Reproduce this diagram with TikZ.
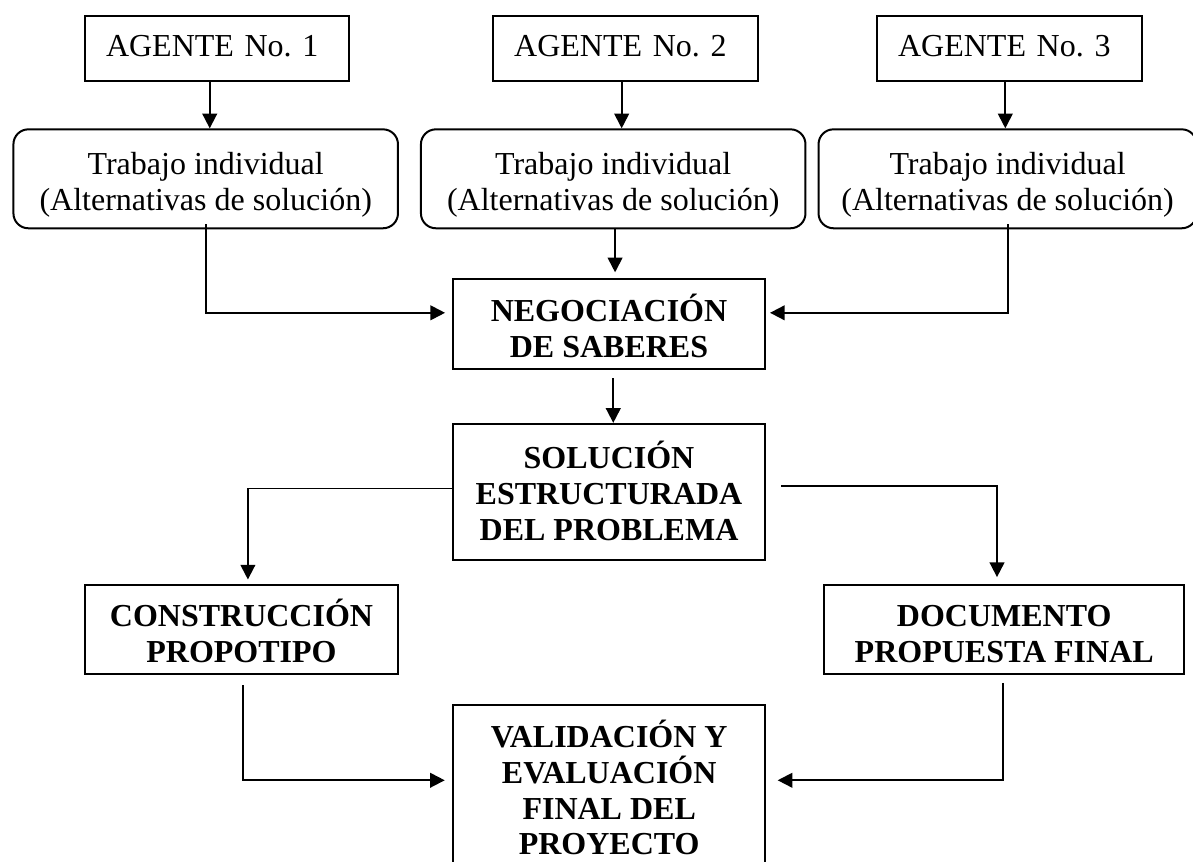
\documentclass[tikz,border=0pt]{standalone}
\usepackage{fontspec}
\setmainfont{Liberation Serif}
\usetikzlibrary{arrows.meta}
\frenchspacing

\begin{document}
\begin{tikzpicture}[x=0.375pt, y=-0.375pt,
    every node/.style = {draw, line width=0.75pt, align=center, inner sep=0pt,
      font=\fontsize{12pt}{13.4pt}\selectfont, text depth=0pt},
    agente/.style = {minimum width=99.2pt, minimum height=24.4pt, inner xsep=7.9pt,
      text width=83.4pt, align=left, text height=6.4pt},
    trabajo/.style = {rounded corners=5.6pt, minimum width=144.2pt, minimum height=37.1pt,
      text height=23.4pt},
    fase/.style = {font=\fontsize{12pt}{13.4pt}\selectfont\bfseries,
      minimum width=117.2pt, minimum height=33.6pt, text height=24.9pt},
    flecha/.style = {-{Triangle[length=5.5pt, width=5.5pt]}, line width=0.7pt}]

  \useasboundingbox (0,0) rectangle (1193,861);

  % agentes
  \node[agente] (ag1) at (217.2,48.2) {AGENTE No. 1};
  \node[agente] (ag2) at (625.4,48.2) {AGENTE No. 2};
  \node[agente] (ag3) at (1009.3,48.2) {AGENTE No. 3};

  % trabajo individual
  \node[trabajo] (tb1) at (205.7,178.8) {Trabajo individual\\(Alternativas de solución)};
  \node[trabajo] (tb2) at (613.2,178.8) {Trabajo individual\\(Alternativas de solución)};
  \node[trabajo, minimum width=141.8pt] (tb3) at (1007.6,178.8) {Trabajo individual\\(Alternativas de solución)};

  % fases
  \node[fase] (neg) at (609,324) {NEGOCIACIÓN\\DE SABERES};
  \node[fase, minimum height=51.1pt, text height=36pt] (sol) at (609,492)
    {SOLUCIÓN\\ESTRUCTURADA\\DEL PROBLEMA};
  \node[fase, minimum width=117.4pt] (cons) at (241.5,629.3) {CONSTRUCCIÓN\\PROPOTIPO};
  \node[fase, minimum width=135.1pt] (doc) at (1004.2,629.3) {DOCUMENTO\\PROPUESTA FINAL};
  \node[fase, minimum height=62.25pt, text height=50.2pt] (val) at (609.2,788)
    {VALIDACIÓN Y\\EVALUACIÓN\\FINAL DEL\\PROYECTO};

  % flechas
  \draw[flecha] ([xshift=-2.8pt]ag1.south) -- ([xshift=-2.8pt]ag1.south |- tb1.north);
  \draw[flecha] ([xshift=-1.4pt]ag2.south) -- ([xshift=-1.4pt]ag2.south |- tb2.north);
  \draw[flecha] ([xshift=-1.5pt]ag3.south) -- ([xshift=-1.5pt]ag3.south |- tb3.north);

  \draw[flecha] ([yshift=1.9pt]tb1.south) |- ([xshift=-2.5pt,yshift=4.2pt]neg.west);
  \draw[flecha, shorten >=2.2pt] ([xshift=0.7pt]tb2.south) -- ([xshift=0.7pt]tb2.south |- neg.north);
  \draw[flecha] ([yshift=1.9pt]tb3.south) |- ([xshift=1.4pt,yshift=4.2pt]neg.east);

  \draw[flecha] ([xshift=1.6pt,yshift=-3.2pt]neg.south) -- ([xshift=1.6pt]neg.south |- sol.north);

  \draw[flecha] ([yshift=1.3pt]sol.west) -| ([xshift=2.4pt,yshift=1.5pt]cons.north);
  \draw[flecha] ([xshift=5.7pt,yshift=2.1pt]sol.east) -| ([xshift=-2.7pt,yshift=2.4pt]doc.north);

  \draw[flecha] ([xshift=0.6pt,yshift=-3.8pt]cons.south) |- ([xshift=-2.7pt,yshift=2.9pt]val.west);
  \draw[flecha] ([xshift=-0.5pt,yshift=-2.9pt]doc.south) |- ([xshift=4.2pt,yshift=2.9pt]val.east);

\end{tikzpicture}
\end{document}
